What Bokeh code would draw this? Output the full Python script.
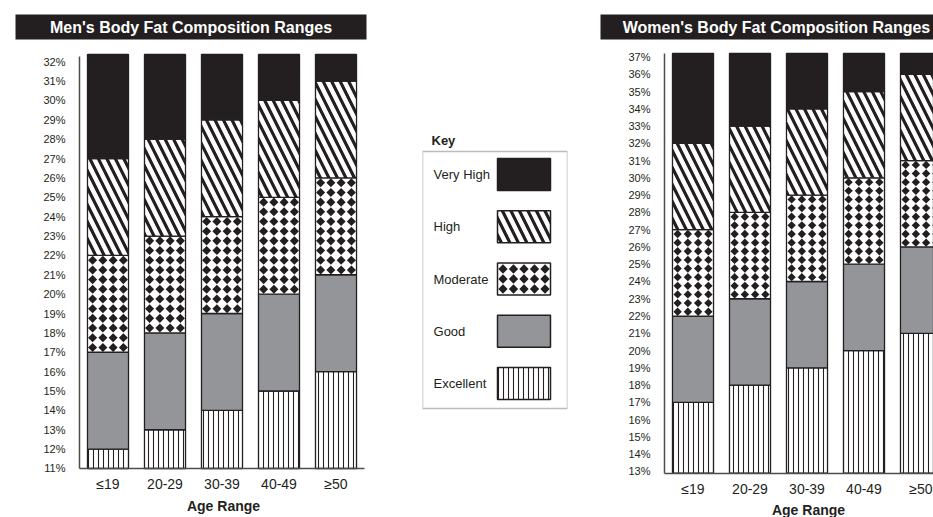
import numpy as np
from bokeh.plotting import figure
from bokeh.layouts import row, column
from bokeh.models import (Range1d, FixedTicker, PrintfTickFormatter,
                          BoxAnnotation, Label, Spacer)
from bokeh.core.properties import value
from bokeh.embed import file_html
from bokeh.resources import INLINE

# ---------------- data ----------------
AGE_GROUPS = ["≤19", "20-29", "30-39", "40-49", "≥50"]
LEVELS = ["Very High", "High", "Moderate", "Good", "Excellent"]

# men: upper bound of each range (%)
MEN_FLOOR = 11
MEN_TOP = 32.37
men_excellent = [12, 13, 14, 15, 16]
men_good = [17, 18, 19, 20, 21]
men_moderate = [22, 23, 24, 25, 26]
men_high = [27, 28, 29, 30, 31]
MEN_TICKS = list(range(11, 33))

# women: upper bound of each range (%)
WOMEN_FLOOR = 12.9
WOMEN_TOP = 37.2
women_excellent = [17, 18, 19, 20, 21]
women_good = [22, 23, 24, 25, 26]
women_moderate = [27, 28, 29, 30, 31]
women_high = [32, 33, 34, 35, 36]
WOMEN_TICKS = list(range(13, 38))

# ---------------- styles ----------------
DARK = "#231f20"
GRAY = "#939598"
FONT = "Liberation Sans"
BAR_W = 0.72
PX_PER_GROUP = 57
TITLE_H = 40
CHART_H = 457
FOOT_H = 20
DIAMOND_COLS = [-0.27, -0.09, 0.09, 0.27]

STYLE = {
    "Very High": dict(fill_color=DARK),
    "High": dict(fill_color="white", hatch_pattern="left_diagonal_line",
                 hatch_color=DARK, hatch_scale=17, hatch_weight=3.2),
    "Moderate": dict(fill_color="white"),
    "Good": dict(fill_color=GRAY),
    "Excellent": dict(fill_color="white", hatch_pattern="vertical_line",
                      hatch_color=DARK, hatch_scale=5, hatch_weight=1.1),
}


def blank_fig(width, height, left, right, top, bottom):
    p = figure(width=width, height=height, output_backend="svg",
               toolbar_location=None, x_range=Range1d(0, 1), y_range=Range1d(0, 1),
               x_axis_location=None, y_axis_location=None,
               min_border_left=left, min_border_right=right,
               min_border_top=top, min_border_bottom=bottom)
    p.outline_line_color = None
    p.xgrid.visible = False
    p.ygrid.visible = False
    return p


def title_fig(width, left, right, text, tx, ty):
    p = blank_fig(width, TITLE_H, left, right, 14, 1)
    p.background_fill_color = DARK
    p.add_layout(Label(x=tx, y=ty, x_units="screen", y_units="screen", text=text,
                       text_align="center", text_baseline="middle",
                       text_color="white", text_font=FONT,
                       text_font_style="bold", text_font_size="16px"))
    return p


def footer_fig(width, left, right, text, tx, ty):
    p = blank_fig(width, FOOT_H, left, right, 0, 0)
    p.add_layout(Label(x=tx, y=ty, x_units="screen", y_units="screen", text=text,
                       text_align="center", text_baseline="middle",
                       text_font=FONT, text_font_style="bold",
                       text_font_size="14px", text_color=DARK))
    return p


def stacked_chart(width, left, axis_px, frame_w, y_range, axis_bounds, floor,
                  top, ticks, bounds, dsize):
    # x = 0 sits on the y axis; one age group per PX_PER_GROUP pixels
    x0 = -axis_px / PX_PER_GROUP
    x1 = (frame_w - axis_px) / PX_PER_GROUP
    p = figure(width=width, height=CHART_H, output_backend="svg",
               toolbar_location=None, x_range=Range1d(x0, x1),
               y_range=Range1d(*y_range), min_border_left=left,
               min_border_right=width - left - frame_w,
               min_border_top=0, min_border_bottom=0)
    p.outline_line_color = None
    p.xgrid.visible = False
    p.ygrid.visible = False
    xs = [i + 0.5 for i in range(len(AGE_GROUPS))]
    exc, good, mod, high = bounds
    segs = {
        "Excellent": ([floor] * len(xs), exc),
        "Good": (exc, good),
        "Moderate": (good, mod),
        "High": (mod, high),
        "Very High": (high, [top] * len(xs)),
    }
    for lvl in ["Excellent", "Good", "Moderate", "High", "Very High"]:
        b, t = segs[lvl]
        p.vbar(x=xs, bottom=b, top=t, width=BAR_W, line_color=DARK,
               line_width=1.3, **STYLE[lvl])
    # diamond texture of the "Moderate" band, laid out from the band limits
    dx, dy = [], []
    for x, lo, hi in zip(xs, good, mod):
        for yy in np.arange(lo + 0.25, hi, 0.5):
            for off in DIAMOND_COLS:
                dx.append(x + off)
                dy.append(float(yy))
    p.scatter(x=dx, y=dy, marker="square", angle=np.pi / 4, size=dsize,
              fill_color=DARK, line_color=None)
    # y axis (drawn at x = 0 inside the frame)
    ya = p.yaxis[0]
    ya.fixed_location = 0
    ya.ticker = FixedTicker(ticks=ticks)
    ya.bounds = axis_bounds
    ya.formatter = PrintfTickFormatter(format="%d%%")
    ya.major_tick_line_color = None
    ya.minor_tick_line_color = None
    ya.axis_line_color = "#4d4d4d"
    ya.axis_line_width = 1.5
    ya.major_label_text_font = FONT
    ya.major_label_text_font_size = "11px"
    ya.major_label_text_color = DARK
    ya.major_label_standoff = 8
    # x axis (drawn at the floor value inside the frame)
    xa = p.xaxis[0]
    xa.fixed_location = floor
    xa.ticker = FixedTicker(ticks=xs)
    xa.bounds = (0, min(len(xs), x1))
    xa.major_label_overrides = {x: lab for x, lab in zip(xs, AGE_GROUPS)}
    xa.major_tick_line_color = None
    xa.minor_tick_line_color = None
    xa.axis_line_color = "#4d4d4d"
    xa.axis_line_width = 1.5
    xa.major_label_text_font = FONT
    xa.major_label_text_font_size = "14px"
    xa.major_label_text_color = DARK
    xa.major_label_standoff = 2
    return p


# ---------------- men ----------------
MEN_W, MEN_L, MEN_R = 395, 15, 29
men_title = title_fig(MEN_W, MEN_L, MEN_R, "Men's Body Fat Composition Ranges",
                      175.5, 12.5)
men = stacked_chart(MEN_W, MEN_L, 64, MEN_W - MEN_L - MEN_R,
                    (9.503, 33.093), (MEN_FLOOR, 32.27), MEN_FLOOR, MEN_TOP,
                    MEN_TICKS, (men_excellent, men_good, men_moderate, men_high),
                    6.4)
men_foot = footer_fig(MEN_W, MEN_L, MEN_R, "Age Range", 208, 12)

# ---------------- key ----------------
key_y = [len(LEVELS) - 1 - k for k in range(len(LEVELS))]   # Very High on top
key = figure(width=200, height=CHART_H, output_backend="svg",
             toolbar_location=None, x_range=Range1d(0, 1),
             y_range=Range1d(-2.1818, 6.5646),
             x_axis_location=None, y_axis_location=None,
             min_border_left=27, min_border_right=28, min_border_top=0,
             min_border_bottom=0)
key.xgrid.visible = False
key.ygrid.visible = False
key.outline_line_color = None
key.add_layout(BoxAnnotation(left=0, right=145, top=346, bottom=89,
                             left_units="screen", right_units="screen",
                             top_units="screen", bottom_units="screen",
                             fill_alpha=0, line_color=DARK, line_width=1.5))
key.add_layout(Label(x=9, y=357, x_units="screen", y_units="screen", text="Key",
                     text_align="left", text_baseline="middle", text_font=FONT,
                     text_font_style="bold", text_font_size="13px",
                     text_color=DARK))
for lvl, yv in zip(LEVELS, key_y):
    key.rect(x=[0.7], y=[yv], width=0.3655, height=32, height_units="screen",
             line_color=DARK, line_width=1.5, **STYLE[lvl])
mod_y = key_y[LEVELS.index("Moderate")]
kx, ky = [], []
for r in (-0.191, 0.0, 0.191):
    for c in (-0.145, -0.0724, 0.0, 0.0724, 0.145):
        kx.append(0.7 + c)
        ky.append(mod_y + r)
key.scatter(x=kx, y=ky, marker="square", angle=np.pi / 4, size=6.6,
            fill_color=DARK, line_color=None)
key.text(x=[0.076] * len(LEVELS), y=key_y, text=LEVELS, text_align="left",
         text_baseline="middle", text_font=value(FONT), text_font_size="13px",
         text_color=DARK)

# ---------------- women ----------------
WOMEN_W, WOMEN_L, WOMEN_R = 338, 5, 0
women_title = title_fig(WOMEN_W, WOMEN_L, WOMEN_R,
                        "Women's Body Fat Composition Ranges", 176, 12)
women = stacked_chart(WOMEN_W, WOMEN_L, 64, WOMEN_W - WOMEN_L - WOMEN_R,
                      (11.493, 37.953), (WOMEN_FLOOR, WOMEN_TOP), WOMEN_FLOOR,
                      WOMEN_TOP, WOMEN_TICKS,
                      (women_excellent, women_good, women_moderate, women_high),
                      5.9)
women_foot = footer_fig(WOMEN_W, WOMEN_L, WOMEN_R, "Age Range", 208, 8)

layout = row(
    column(men_title, men, men_foot),
    column(Spacer(width=200, height=TITLE_H), key, Spacer(width=200, height=FOOT_H)),
    column(women_title, women, women_foot),
)
open("out.html", "w").write(file_html(layout, INLINE))
